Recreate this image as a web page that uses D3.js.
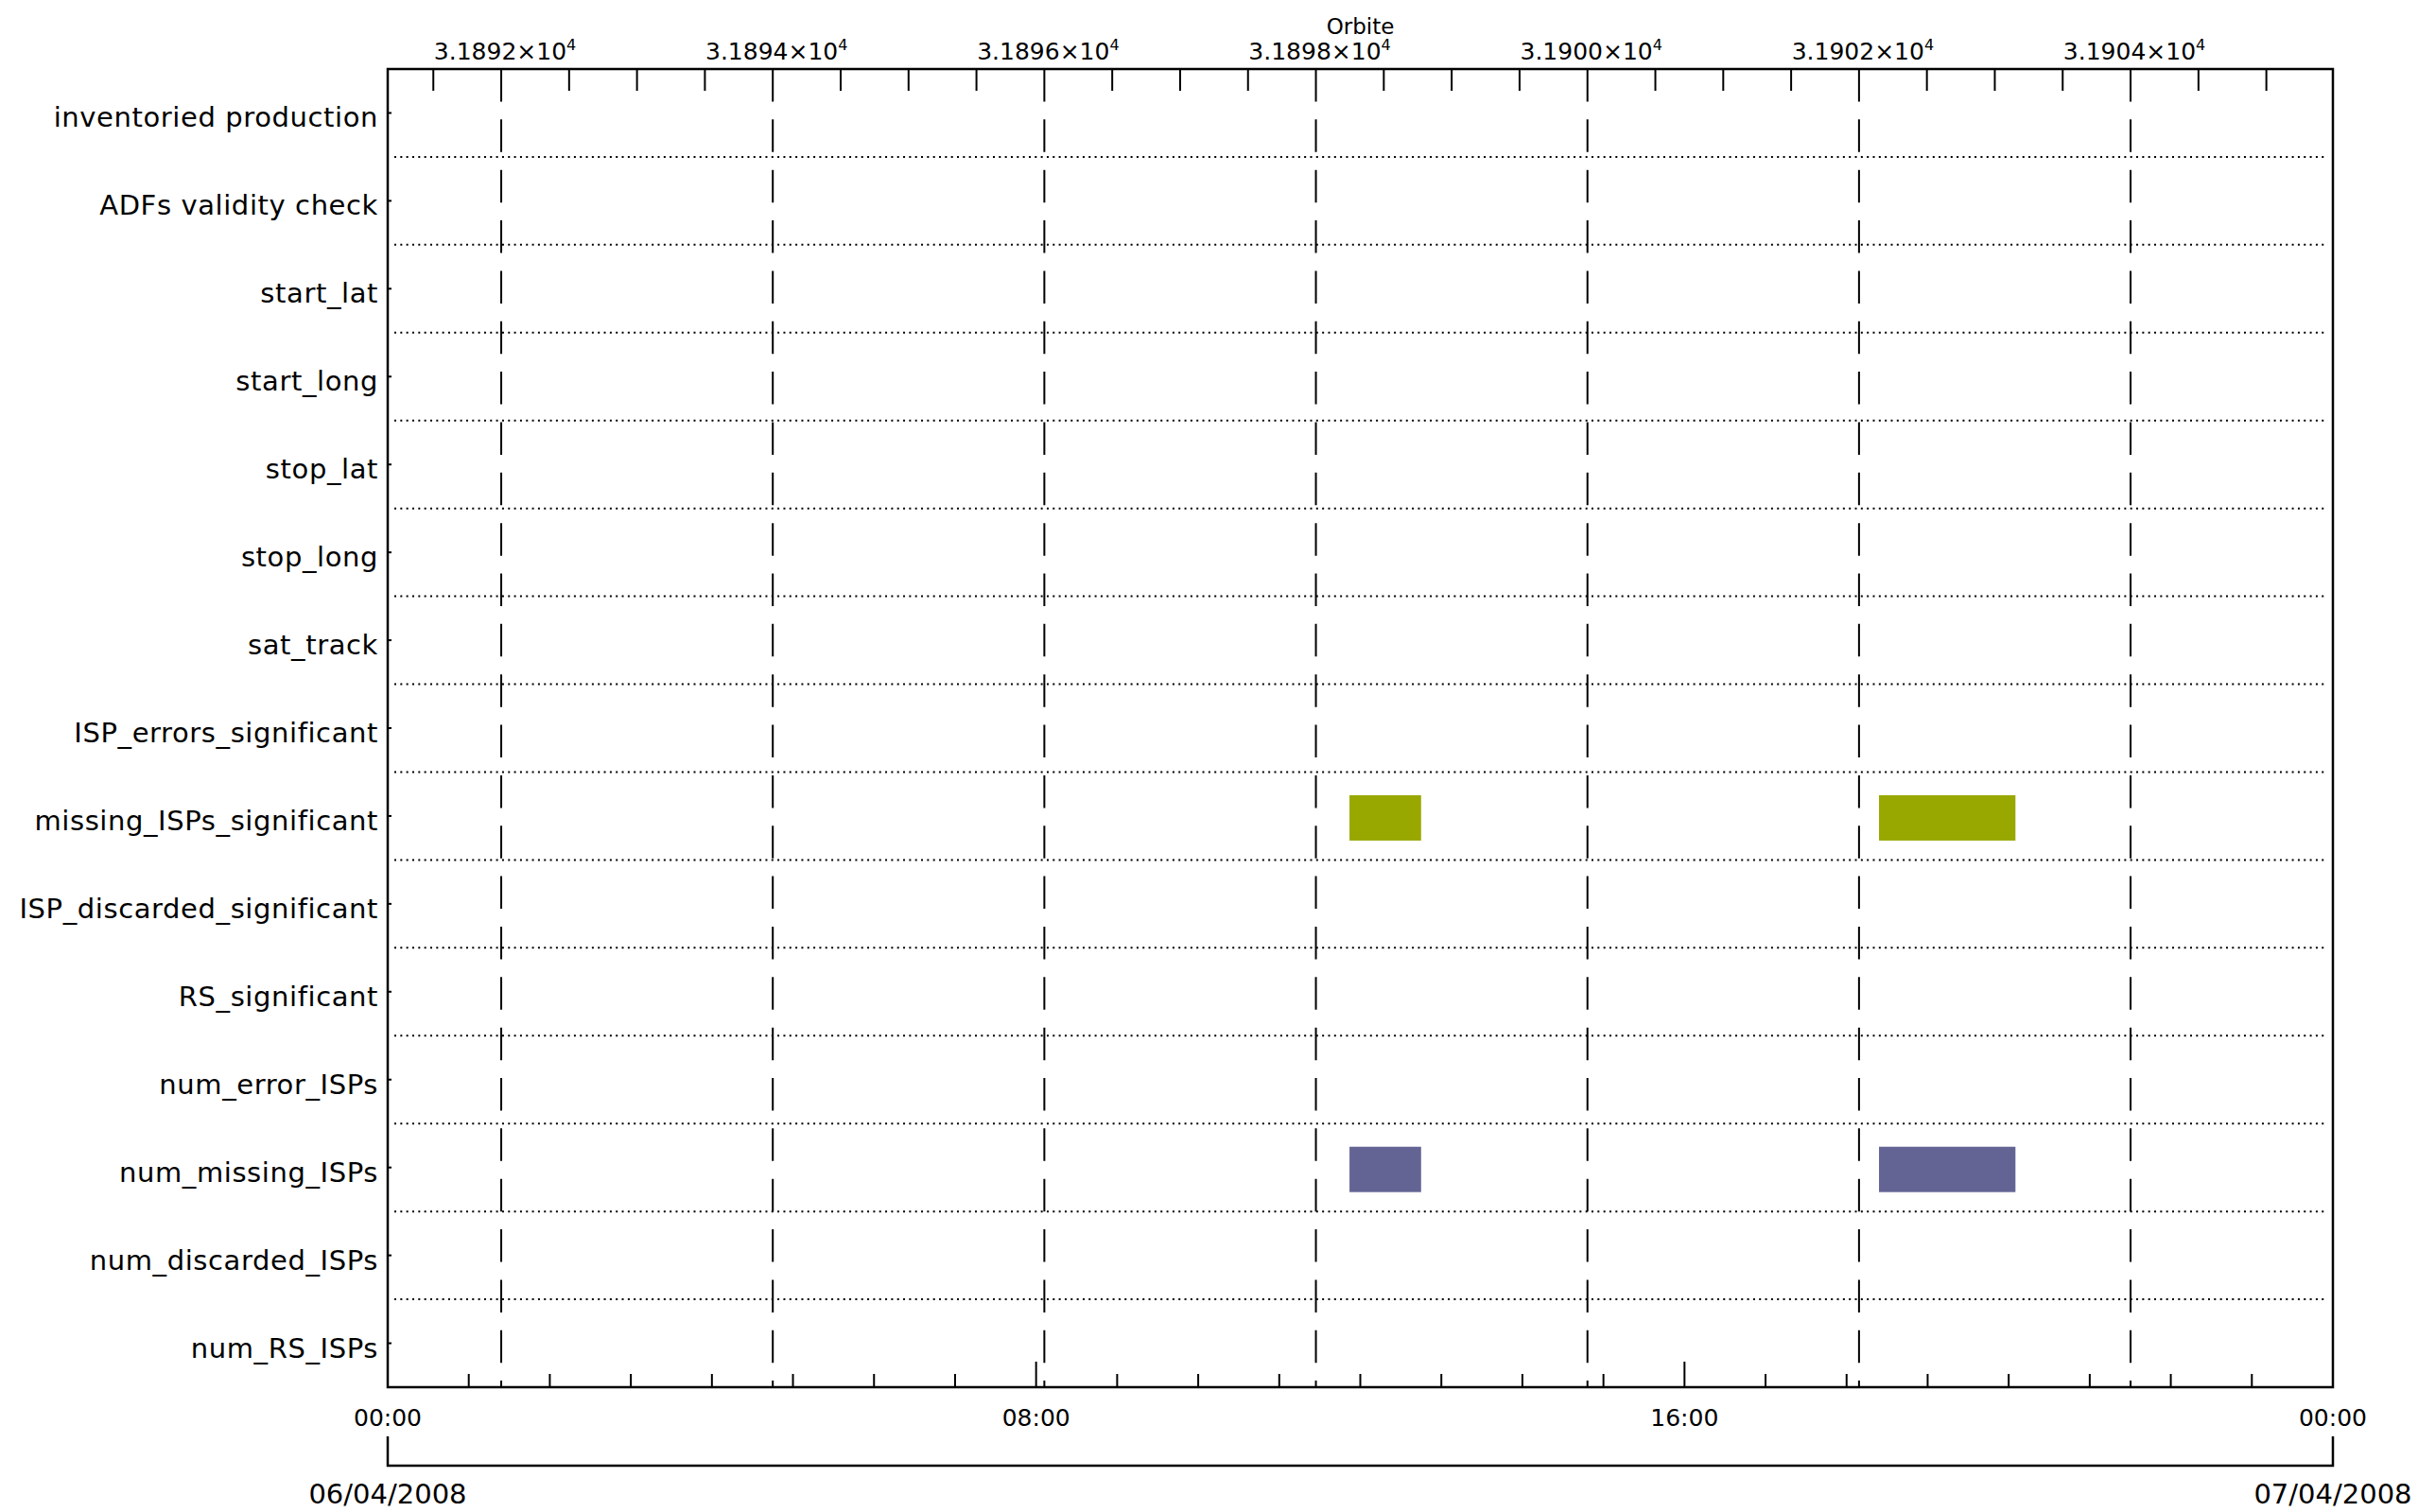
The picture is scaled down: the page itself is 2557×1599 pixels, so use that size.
<!DOCTYPE html>
<html>
<head>
<meta charset="utf-8">
<script src="https://cdn.jsdelivr.net/npm/d3@7"></script>
<style>
	body { margin: 0; background: #fff; }
	text { font-family: "DejaVu Sans", sans-serif; fill: #000; }
	.row-label { font-size: 29px; letter-spacing: 0.6px; }
	.axis-label { font-size: 25px; }
	.date-label { font-size: 29px; }
</style>
</head>
<body>
<div id="chart-area"></div>
<script>

// Row names (top to bottom)
var rowLabels = [
	"inventoried production",
	"ADFs validity check",
	"start_lat",
	"start_long",
	"stop_lat",
	"stop_long",
	"sat_track",
	"ISP_errors_significant",
	"missing_ISPs_significant",
	"ISP_discarded_significant",
	"RS_significant",
	"num_error_ISPs",
	"num_missing_ISPs",
	"num_discarded_ISPs",
	"num_RS_ISPs"
];

// Time span of the plot and orbit numbers covering it
var dayRange = ["06/04/2008 00:00", "07/04/2008 00:00"];
var orbitRange = [31891.164, 31905.49];

// Tick labels
var orbitTicks = [31892, 31894, 31896, 31898, 31900, 31902, 31904];
var timeTicks = ["06/04/2008 00:00", "06/04/2008 08:00", "06/04/2008 16:00", "07/04/2008 00:00"];
var timeTickLabels = ["00:00", "08:00", "16:00", "00:00"];
var dateLabels = ["06/04/2008", "07/04/2008"];

// Flagged intervals
var missingSignificant = [
	{ row: "missing_ISPs_significant", start: "06/04/2008 11:52", end: "06/04/2008 12:45" },
	{ row: "missing_ISPs_significant", start: "06/04/2008 18:24", end: "06/04/2008 20:05" }
];
var numMissing = [
	{ row: "num_missing_ISPs", start: "06/04/2008 11:52", end: "06/04/2008 12:45" },
	{ row: "num_missing_ISPs", start: "06/04/2008 18:24", end: "06/04/2008 20:05" }
];

var parseTime = d3.timeParse("%d/%m/%Y %H:%M");


/*
 * TimelineVis - quality flags per row along the day
 */

TimelineVis = function(_parentElement){
	this.parentElement = _parentElement;
	this.initVis();
}

TimelineVis.prototype.initVis = function(){
	var vis = this;

	vis.margin = { top: 73, right: 90, bottom: 132, left: 410 };
	vis.width = 2557 - vis.margin.left - vis.margin.right;
	vis.height = 1599 - vis.margin.top - vis.margin.bottom;

	vis.svg = d3.select("#" + vis.parentElement).append("svg")
			.attr("width", 2557)
			.attr("height", 1599)
		.append("g")
			.attr("transform", "translate(" + vis.margin.left + "," + vis.margin.top + ")");

	// Scales
	vis.x = d3.scaleTime()
		.domain(dayRange.map(parseTime))
		.range([0, vis.width]);

	vis.orbit = d3.scaleLinear()
		.domain(orbitRange)
		.range([0, vis.width]);

	vis.y = d3.scaleBand()
		.domain(rowLabels)
		.range([0, vis.height]);

	vis.wrangleData();
}

TimelineVis.prototype.wrangleData = function(){
	var vis = this;

	vis.series = [
		{ color: "#98a800", data: missingSignificant },
		{ color: "#646494", data: numMissing }
	];
	vis.series.forEach(function(s){
		s.data = s.data.map(function(d){
			return { row: d.row, start: parseTime(d.start), end: parseTime(d.end) };
		});
	});

	vis.updateVis();
}

TimelineVis.prototype.updateVis = function(){
	var vis = this;
	var bw = vis.y.bandwidth();

	// dotted row separators
	vis.svg.selectAll(".row-sep")
		.data(rowLabels.slice(1))
		.enter().append("line")
		.attr("class", "row-sep")
		.attr("x1", 7)
		.attr("x2", vis.width - 7)
		.attr("y1", function(d){ return vis.y(d); })
		.attr("y2", function(d){ return vis.y(d); })
		.attr("stroke", "#000")
		.attr("stroke-width", 2)
		.attr("stroke-dasharray", "2,4.33");

	// dashed orbit lines (first dash doubles as the major tick)
	vis.svg.selectAll(".orbit-line")
		.data(orbitTicks)
		.enter().append("line")
		.attr("class", "orbit-line")
		.attr("x1", function(d){ return vis.orbit(d); })
		.attr("x2", function(d){ return vis.orbit(d); })
		.attr("y1", 0)
		.attr("y2", vis.height)
		.attr("stroke", "#000")
		.attr("stroke-width", 2)
		.attr("stroke-dasharray", "34.5,18.85");

	// bars
	vis.series.forEach(function(s){
		vis.svg.selectAll(null)
			.data(s.data)
			.enter().append("rect")
			.attr("x", function(d){ return vis.x(d.start); })
			.attr("width", function(d){ return vis.x(d.end) - vis.x(d.start); })
			.attr("y", function(d){ return vis.y(d.row) + bw * 0.264; })
			.attr("height", bw * 0.516)
			.attr("fill", s.color);
	});

	// top axis: orbit minor ticks every half orbit
	var minor = d3.range(Math.ceil(orbitRange[0] * 2) / 2, orbitRange[1], 0.5)
		.filter(function(d){ return orbitTicks.indexOf(d) < 0; });
	vis.svg.selectAll(".orbit-minor")
		.data(minor)
		.enter().append("line")
		.attr("x1", function(d){ return vis.orbit(d); })
		.attr("x2", function(d){ return vis.orbit(d); })
		.attr("y1", 0)
		.attr("y2", 23)
		.attr("stroke", "#000")
		.attr("stroke-width", 2);

	var orbitLabels = vis.svg.selectAll(".orbit-label")
		.data(orbitTicks)
		.enter().append("text")
		.attr("class", "axis-label")
		.attr("text-anchor", "middle")
		.attr("x", function(d){ return vis.orbit(d) + 4; })
		.attr("y", -10);
	orbitLabels.append("tspan")
		.text(function(d){ return d3.format(".4f")(d / 1e4) + "×10"; });
	orbitLabels.append("tspan")
		.attr("dy", -10)
		.style("font-size", "16px")
		.text("4");

	vis.svg.append("text")
		.attr("class", "axis-label")
		.style("font-size", "23px")
		.attr("text-anchor", "middle")
		.attr("x", vis.width / 2)
		.attr("y", -37)
		.text("Orbite");

	// bottom axis: hourly ticks
	var hours = d3.timeHour.range(vis.x.domain()[0], vis.x.domain()[1]).slice(1);
	var majors = timeTicks.map(function(t){ return +parseTime(t); });
	vis.svg.selectAll(".hour-tick")
		.data(hours)
		.enter().append("line")
		.attr("x1", function(d){ return vis.x(d); })
		.attr("x2", function(d){ return vis.x(d); })
		.attr("y1", vis.height)
		.attr("y2", function(d){ return vis.height - (majors.indexOf(+d) >= 0 ? 27 : 14); })
		.attr("stroke", "#000")
		.attr("stroke-width", 2);

	vis.svg.selectAll(".time-label")
		.data(timeTicks)
		.enter().append("text")
		.attr("class", "axis-label")
		.attr("text-anchor", "middle")
		.attr("x", function(d){ return vis.x(parseTime(d)); })
		.attr("y", vis.height + 41)
		.text(function(d, i){ return timeTickLabels[i]; });

	// date bracket
	vis.svg.append("path")
		.attr("d", "M0," + (vis.height + 52) + "V" + (vis.height + 83) + "H" + vis.width + "V" + (vis.height + 52))
		.attr("fill", "none")
		.attr("stroke", "#000")
		.attr("stroke-width", 2.5);

	vis.svg.selectAll(".date-label")
		.data(dateLabels)
		.enter().append("text")
		.attr("class", "date-label")
		.attr("text-anchor", "middle")
		.attr("x", function(d, i){ return vis.x(parseTime(dayRange[i])); })
		.attr("y", vis.height + 123)
		.text(function(d){ return d; });

	// row labels and small ticks on the left axis
	vis.svg.selectAll(".row-label")
		.data(rowLabels)
		.enter().append("text")
		.attr("class", "row-label")
		.attr("text-anchor", "end")
		.attr("x", -10)
		.attr("y", function(d){ return vis.y(d) + bw / 2 + 15; })
		.text(function(d){ return d; });

	vis.svg.selectAll(".row-tick")
		.data(rowLabels)
		.enter().append("line")
		.attr("x1", 0)
		.attr("x2", 4)
		.attr("y1", function(d){ return vis.y(d) + bw / 2; })
		.attr("y2", function(d){ return vis.y(d) + bw / 2; })
		.attr("stroke", "#000")
		.attr("stroke-width", 2);

	// frame
	vis.svg.append("rect")
		.attr("width", vis.width)
		.attr("height", vis.height)
		.attr("fill", "none")
		.attr("stroke", "#000")
		.attr("stroke-width", 2.5);
}

var timeline = new TimelineVis("chart-area");

</script>
</body>
</html>
